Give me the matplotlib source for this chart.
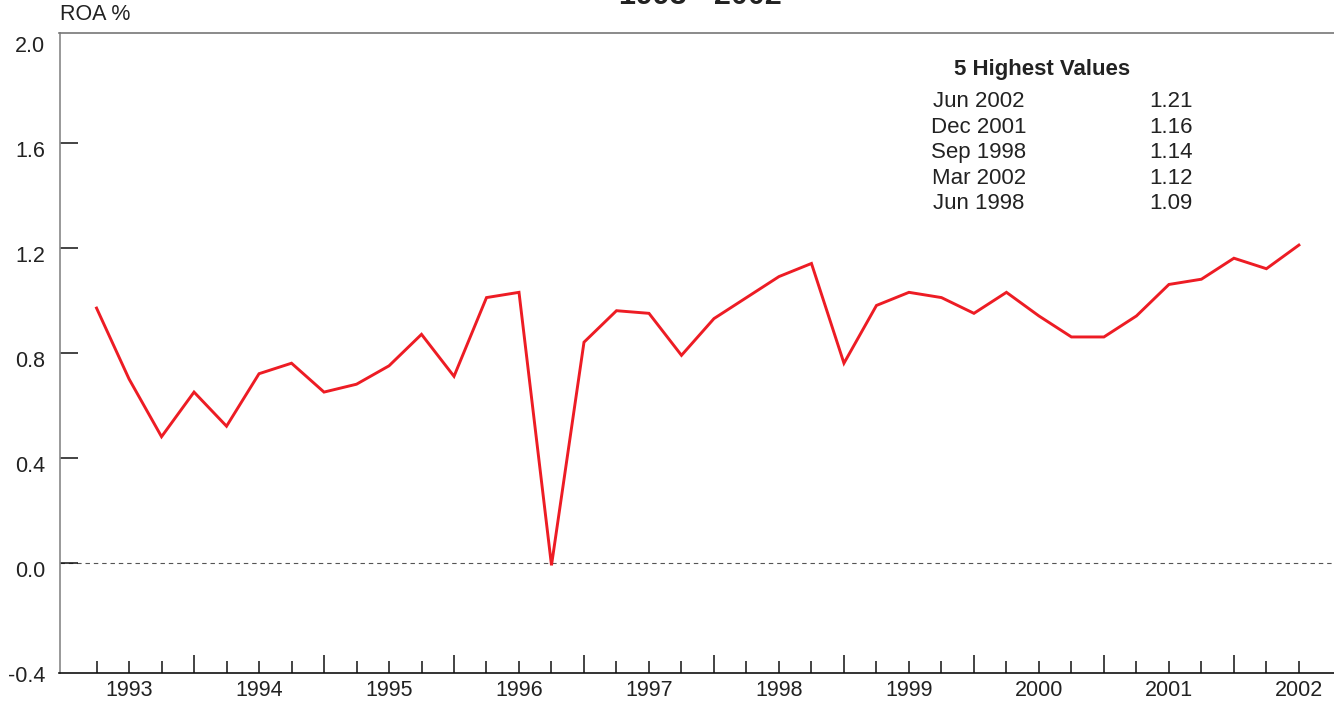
import numpy as np
import matplotlib.pyplot as plt
from matplotlib.transforms import ScaledTranslation

plt.rcParams['font.family'] = ['Liberation Sans', 'DejaVu Sans']

# quarterly return on assets, Mar 1993 .. Jun 2002
start_year = 1993
months = ['Mar', 'Jun', 'Sep', 'Dec']
roa = [0.97, 0.70, 0.48, 0.65,
       0.52, 0.72, 0.76, 0.65,
       0.68, 0.75, 0.87, 0.71,
       1.01, 1.03, -0.01, 0.84,
       0.96, 0.95, 0.79, 0.93,
       1.01, 1.09, 1.14, 0.76,
       0.98, 1.03, 1.01, 0.95,
       1.03, 0.94, 0.86, 0.86,
       0.94, 1.06, 1.08, 1.16,
       1.12, 1.21]
year_labels = [str(y) for y in range(1993, 2003)]
y_ticks = [-0.4, 0.0, 0.4, 0.8, 1.2, 1.6, 2.0]

W, H = 1334, 702
txt = '#222222'
red = '#ED1C24'

# quarter-end positions in fractional years
t = start_year + 0.25 * (np.arange(len(roa)) + 1)
labels = [f"{months[i % 4]} {start_year + i // 4}" for i in range(len(roa))]

fig = plt.figure(figsize=(W / 100, H / 100), dpi=100)
ax = fig.add_axes([59.5 / W, 28.7 / H, 1 - 59.5 / W, 640 / H])

ax.axhline(0, color='#555555', lw=0.8, dashes=[4, 3.5], zorder=1)
ax.plot(t, roa, color=red, lw=2.1, solid_joinstyle='miter', zorder=3)

ax.set_xlim(1992.965, 2002.77)
ax.set_ylim(-0.4213, 2.0168)

ax.spines['right'].set_visible(False)
ax.spines['left'].set_color('#888888')
ax.spines['top'].set_color('#777777')
ax.spines['bottom'].set_color('#111111')
for s in ax.spines.values():
    s.set_linewidth(1.2)

# y axis
ax.set_yticks(y_ticks)
ax.set_yticklabels([f"{v:.1f}" for v in y_ticks])
ax.tick_params(axis='y', direction='in', length=13, width=1.1, color='#111111',
               pad=10.5, labelsize=15.5, labelcolor=txt)
shift = ScaledTranslation(0, -6 / 100, fig.dpi_scale_trans)
for lbl in ax.get_yticklabels():
    lbl.set_transform(lbl.get_transform() + shift)
yt = ax.yaxis.get_major_ticks()
yt[0].tick1line.set_visible(False)
yt[-1].tick1line.set_visible(False)

# x axis: long ticks at year boundaries, short ticks at quarters,
# year names under mid-year
ax.set_xticks(np.arange(1994, 2003))
ax.set_xticklabels([])
quarter_pos = [y + q for y in range(1993, 2003) for q in (0.25, 0.5, 0.75)][:-1]
quarter_lab = [str(int(p)) if abs(p % 1 - 0.5) < 1e-6 else '' for p in quarter_pos]
ax.set_xticks(quarter_pos, minor=True)
ax.set_xticklabels(quarter_lab, minor=True)
ax.tick_params(axis='x', which='major', direction='in', length=13, width=1.1,
               color='#111111')
ax.tick_params(axis='x', which='minor', direction='in', length=8.6, width=1.1,
               color='#111111', pad=5, labelsize=15.5, labelcolor=txt)

# top five quarters table
order = np.argsort(roa)[::-1][:5]
fig.text(1042.5 / W, 1 - 70 / H, '5 Highest Values', ha='center', va='center',
         fontsize=16, fontweight='bold', color=txt)
row_y = [101.7, 127.3, 152.7, 178.3, 203.3]
for ry, idx in zip(row_y, order):
    fig.text(979 / W, 1 - ry / H, labels[idx], ha='center', va='center',
             fontsize=16, color=txt)
    fig.text(1171 / W, 1 - ry / H, f"{roa[idx]:.2f}", ha='center', va='center',
             fontsize=16, color=txt)

fig.text(60 / W, 1 - 15 / H, 'ROA %', ha='left', va='center', fontsize=15.5, color=txt)
# page title sits mostly above the top edge
fig.text(700 / W, 1 - 4 / H, '1993 - 2002', ha='center', va='baseline',
         fontsize=22, fontweight='bold', color=txt)

fig.savefig('out.png', dpi=100)
